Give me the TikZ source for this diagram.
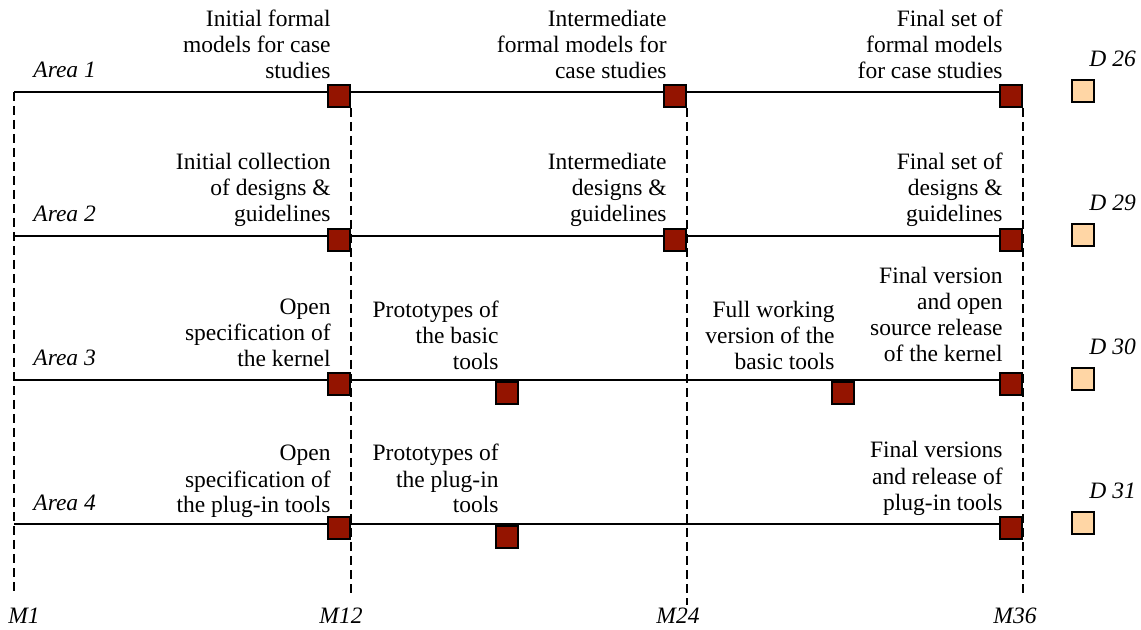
\documentclass[tikz,border=0pt]{standalone}
\usepackage{fontspec}
\setmainfont{Liberation Serif}
\newfontfamily\planfont{Liberation Serif}
\usepackage{xcolor}
\definecolor{delivred}{RGB}{148,20,0}
\definecolor{reportorange}{RGB}{255,214,165}

\begin{document}
\begin{tikzpicture}[x=0.5pt,y=-0.5pt,
every node/.style	= {font=\planfont\fontsize{11.75}{13}\selectfont},
deliv/.style		= {draw=black, line width=1pt, fill=delivred, minimum size=11pt, inner sep=0pt},
report/.style		= {deliv, fill=reportorange},
goal/.style		= {align=right, anchor=base east, inner sep=0pt},
tag/.style		= {font=\planfont\fontsize{11.75}{13}\selectfont\itshape, inner sep=0pt},
timeline/.style	= {line width=1pt},
guide/.style		= {line width=0.65pt, dash pattern=on 4.5pt off 2.5pt}]
%\draw[help lines] (0,0) grid (1141,630);
\useasboundingbox (0,0) rectangle (1141,630);

% rows
\coordinate (a1) at (14,92);
\coordinate (a2) at (14,236);
\coordinate (a3) at (14,380);
\coordinate (a4) at (14,524);
\coordinate (m1) at (14,595);

% deliverables
\node[deliv] (s11) at (339,96) {};
\node[deliv] (s12) at (675,96) {};
\node[deliv] (s13) at (1011,96) {};
\node[deliv] (s21) at (339,240) {};
\node[deliv] (s22) at (675,240) {};
\node[deliv] (s23) at (1011,240) {};
\node[deliv] (s31) at (339,384) {};
\node[deliv] (s32) at (507,393) {};
\node[deliv] (s33) at (843,393) {};
\node[deliv] (s34) at (1011,384) {};
\node[deliv] (s41) at (339,528) {};
\node[deliv] (s42) at (507,537) {};
\node[deliv] (s43) at (1011,528) {};

% month guides
\draw[guide] (a1) -- (m1);
\draw[guide] (s11.south east) -- (s11.south east |- m1);
\draw[guide] (s12.south east) -- ([yshift=-5pt]s12.south east |- m1);
\draw[guide] (s13.south east) -- (s13.south east |- m1);

\draw[timeline] (a1) -- (a1 -| s13.east);
\draw[timeline] (a2) -- (a2 -| s23.east);
\draw[timeline] (a3) -- (a3 -| s34.east);
\draw[timeline] (a4) -- (a4 -| s43.east);

% squares again on top
\foreach \s in {s11,s12,s13,s21,s22,s23,s31,s32,s33,s34,s41,s42,s43}
  \node[deliv] at (\s) {};

\node[report] (d1) at (1083,91) {};
\node[report] (d2) at (1083,235) {};
\node[report] (d3) at (1083,379) {};
\node[report] (d4) at (1083,523) {};

\node[tag, anchor=base west] (l1) at (1089,67) {D 26};
\node[tag, anchor=base west] (l2) at (1089,211) {D 29};
\node[tag, anchor=base west] (l3) at (1089,355) {D 30};
\node[tag, anchor=base west] (l4) at (1089,499) {D 31};

\node[tag, anchor=base west] (t1) at (33,78) {Area 1};
\node[tag, anchor=base west] (t2) at (33,222) {Area 2};
\node[tag, anchor=base west] (t3) at (33,366) {Area 3};
\node[tag, anchor=base west] (t4) at (33,510) {Area 4};

\node[tag, anchor=base] (M1) at (24,623) {M1};
\node[tag, anchor=base] (M12) at (341,623) {M12};
\node[tag, anchor=base] (M24) at (678,623) {M24};
\node[tag, anchor=base] (M36) at (1015,623) {M36};

% goals
\node[goal] (g11) at (331,79) {Initial formal\\models for case\\studies};
\node[goal] (g12) at (667,79) {Intermediate\\formal models for\\case studies};
\node[goal] (g13) at (1003,79) {Final set of\\formal models\\for case studies};
\node[goal] (g21) at (331,222) {Initial collection\\of designs \&\\guidelines};
\node[goal] (g22) at (667,222) {Intermediate\\designs \&\\guidelines};
\node[goal] (g23) at (1003,222) {Final set of\\designs \&\\guidelines};
\node[goal] (g31) at (331,367) {Open\\specification of\\the kernel};
\node[goal] (g32) at (499,370) {Prototypes of\\the basic\\tools};
\node[goal] (g33) at (835,370) {Full working\\version of the\\basic tools};
\node[goal] (g34) at (1003,362) {Final version\\and open\\source release\\of the kernel};
\node[goal] (g41) at (331,513) {Open\\specification of\\the plug-in tools};
\node[goal] (g42) at (499,513) {Prototypes of\\the plug-in\\tools};
\node[goal] (g43) at (1003,510) {Final versions\\and release of\\plug-in tools};
\end{tikzpicture}
\end{document}
